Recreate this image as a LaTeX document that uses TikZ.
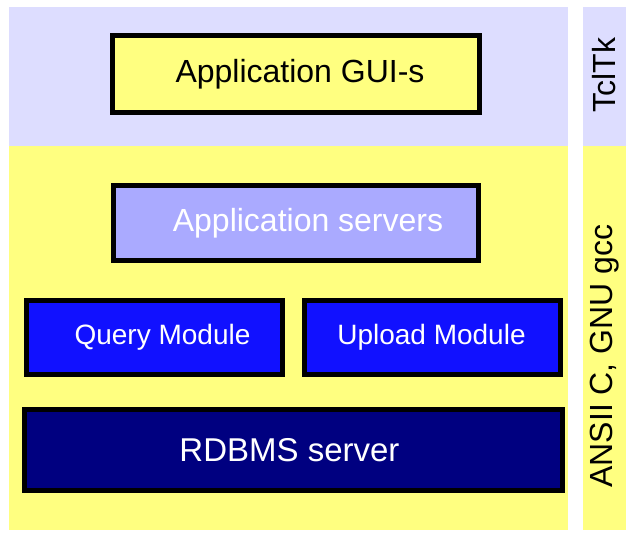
\documentclass[tikz,border=0pt]{standalone}
\usepackage{fontspec}
\setmainfont{Liberation Sans}

\newlength{\du}
\setlength{\du}{1pt}

\definecolor{guilayer}{rgb}{0.867, 0.867, 1.000}
\definecolor{clayer}{rgb}{1.000, 1.000, 0.502}
\definecolor{appsrv}{rgb}{0.667, 0.667, 1.000}
\definecolor{modblue}{rgb}{0.067, 0.067, 1.000}
\definecolor{dbnavy}{rgb}{0.000, 0.000, 0.502}

\tikzset{
  layerbox/.style={draw=black, line width=5\du, inner sep=0pt},
  modbox/.style={layerbox, fill=modblue,
    minimum width=256\du, minimum height=74\du},
  bigtext/.style={inner sep=0pt, font=\fontsize{32}{38}\selectfont},
  modtext/.style={inner sep=0pt, text=white, font=\fontsize{28}{34}\selectfont},
  sidelabel/.style={rotate=90, font=\fontsize{32}{38}\selectfont}
}

\begin{document}
\begin{tikzpicture}
\pgftransformyscale{-1.000000}
\useasboundingbox (0\du,0\du) rectangle (630\du,533\du);
% layer backgrounds
\fill[guilayer] (9\du,7\du) rectangle (568\du,146\du);
\fill[clayer] (9\du,146\du) rectangle (568\du,530\du);
\fill[guilayer] (583\du,7\du) rectangle (626\du,146\du);
\fill[clayer] (583\du,146\du) rectangle (626\du,530\du);
% tool names on the right strip
\node[sidelabel] (tcltk) at (604.5\du,75\du){TclTk};
\node[sidelabel] (ansic) at (604.5\du,356\du){ANSII C, GNU gcc};
% component boxes
\node[layerbox, fill=clayer, minimum width=367\du, minimum height=77\du]
  (gui) at (296\du,74\du){};
\node[layerbox, fill=appsrv, minimum width=365\du, minimum height=75\du]
  (appservers) at (296\du,223\du){};
\node[modbox] (query) at (154.5\du,337.5\du){};
\node[modbox] (upload) at (432.5\du,337.5\du){};
\node[layerbox, fill=dbnavy, minimum width=538\du, minimum height=81\du]
  (rdbms) at (293.5\du,450\du){};
% box captions
\node[bigtext] (guitext) at ([xshift=4\du]gui.center){Application GUI-s};
\node[bigtext, text=white] (appservertext) at ([xshift=12\du]appservers.center){Application servers};
\node[modtext] (querytext) at ([xshift=8\du]query.center){Query Module};
\node[modtext] (uploadtext) at ([xshift=-1\du]upload.center){Upload Module};
\node[bigtext, text=white, font=\fontsize{33}{39}\selectfont]
  (rdbmstext) at ([xshift=-4\du]rdbms.center){RDBMS server};
\end{tikzpicture}
\end{document}
